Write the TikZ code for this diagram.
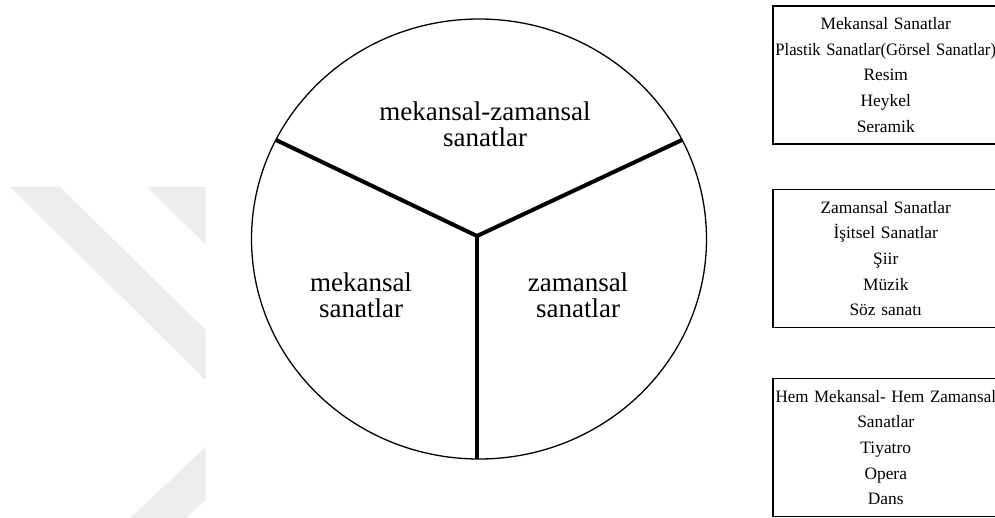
\documentclass[tikz,border=0pt]{standalone}
\usepackage{fontspec}
\setmainfont{Liberation Serif}
\usepackage{xcolor}
\usepackage{graphicx}
\usetikzlibrary{positioning}
\definecolor{wmgray}{RGB}{237,237,237}

\begin{document}
\begin{tikzpicture}[x=1pt,y=-1pt,
 kutu/.style={draw, line width=1.5pt, minimum width=226pt, minimum height=138pt,
   text width=224pt, inner xsep=1pt, align=center, anchor=west,
   font=\fontsize{17.4}{25.6}\selectfont},
 etiket/.style={align=center, inner sep=0pt, font=\fontsize{27}{26}\selectfont}]

 \path[use as bounding box, clip] (0,0) rectangle (995,518);

 %watermark
 \fill[wmgray] (10,187) -- (60,187) -- (205.7,330) -- (205.7,380) -- cycle;
 \fill[wmgray] (147,187) -- (205.7,187) -- (205.7,245) -- cycle;
 \fill[wmgray] (205.7,447) -- (205.7,500) -- (186,518) -- (130,518) -- cycle;

 \coordinate (C) at (479,239);
 \coordinate (M) at (477,236); %where the three parts meet
 \coordinate (L) at (276,140);
 \coordinate (R) at (682,140);
 \coordinate (B) at (477,459);

 %circle
 \draw[line width=1.3pt] (C) ellipse [x radius=227.5pt, y radius=220pt];
 \draw[line width=4pt] (L) -- (M) -- (R);
 \draw[line width=4.5pt] (M) -- (B);

 \node[etiket] (ust) at (485,124) {mekansal-zamansal\\sanatlar};
 \node[etiket] (sol) at (361,295) {mekansal\\sanatlar};
 \node[etiket] (sag) at (578,295) {zamansal\\sanatlar};

 %boxes
 \node[kutu] (mekan) at (772,75) {Mekansal Sanatlar\\\scalebox{0.955}[1]{Plastik Sanatlar(Görsel Sanatlar)}\\Resim\\Heykel\\Seramik};
 \node[kutu] (zaman) at (772,258.5) {Zamansal Sanatlar\\İşitsel Sanatlar\\Şiir\\Müzik\\Söz sanatı};
 \node[kutu] (hem) at (772,447.5) {\scalebox{0.975}[1]{Hem Mekansal- Hem Zamansal}\\Sanatlar\\Tiyatro\\Opera\\Dans};

\end{tikzpicture}
\end{document}
